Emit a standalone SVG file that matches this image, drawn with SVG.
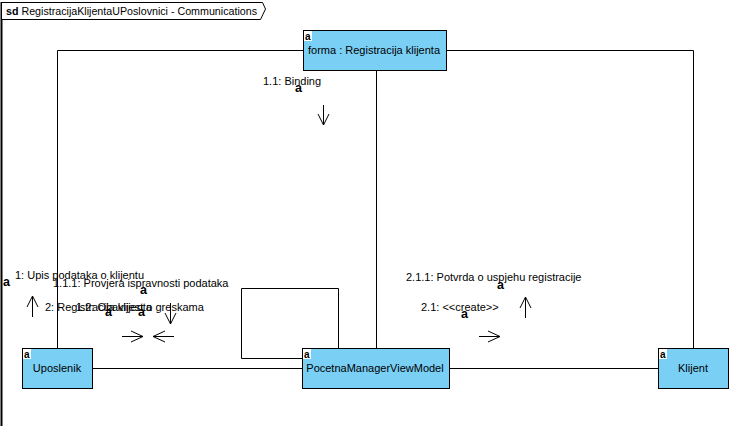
<svg xmlns="http://www.w3.org/2000/svg" width="746" height="426" viewBox="0 0 746 426">
<style>
.node{fill:#7acff5;stroke:#000;stroke-width:1}
.ico{fill:#fff}
.icot{font-family:"Liberation Sans",Arial,sans-serif;font-size:10px;font-weight:bold;fill:#000}
.nt{font-family:"Liberation Sans",Arial,sans-serif;font-size:11px;fill:#000;text-anchor:middle}
.lbl{font-family:"Liberation Sans",Arial,sans-serif;font-size:11px;fill:#000}
.mk{font-family:"Liberation Sans",Arial,sans-serif;font-size:12.5px;font-weight:bold;fill:#000}
.ln{fill:none;stroke:#000;stroke-width:1}
.ar{fill:none;stroke:#000;stroke-width:1}
</style>
<rect width="746" height="426" fill="#fff"/>
<g id="frame">
<line x1="1.5" y1="2" x2="1.5" y2="426" stroke="#000" stroke-width="2"/>
<path d="M2,2.5 H262.5 L265.5,9 L260.5,19.5 H2" fill="#fff" stroke="#000" stroke-width="1"/>
<text x="6" y="15" class="lbl" textLength="251" lengthAdjust="spacingAndGlyphs"><tspan font-weight="bold">sd</tspan> RegistracijaKlijentaUPoslovnici - Communications</text>
</g>
<g id="connectors">
<polyline class="ln" points="303,50.5 57.5,50.5 57.5,348"/>
<polyline class="ln" points="447,50.5 693.5,50.5 693.5,348"/>
<line class="ln" x1="376.5" y1="71" x2="376.5" y2="348"/>
<polyline class="ln" points="338.5,348 338.5,288.5 241.5,288.5 241.5,358.5 302,358.5"/>
<line class="ln" x1="92" y1="368.5" x2="302" y2="368.5"/>
<line class="ln" x1="449" y1="368.5" x2="658" y2="368.5"/>
</g>
<g id="labels">
<text class="lbl" x="263" y="85">1.1: Binding</text>
<text class="mk" x="295" y="92">a</text>
<path class="ar" d="M323.5,105 V125 M318,114 L323.5,125 L329,114"/>
<text class="lbl" x="15" y="279">1: Upis podataka o klijentu</text>
<text class="mk" x="3" y="286">a</text>
<text class="lbl" x="53" y="287">1.1.1: Provjera ispravnosti podataka</text>
<text class="mk" x="140" y="294">a</text>
<path class="ar" d="M32.5,317 V296 M27,307 L32.5,296 L38,307"/>
<text class="lbl" x="45" y="311">2: Registracija klijenta</text>
<text class="lbl" x="76" y="311">1.2: Obavijest o greskama</text>
<text class="mk" x="105" y="316">a</text>
<text class="mk" x="138" y="316">a</text>
<path class="ar" d="M170.5,303 V324 M165,313 L170.5,324 L176,313"/>
<path class="ar" d="M122,336.5 H143 M131,331 L143,336.5 L131,342"/>
<path class="ar" d="M174,336.5 H153 M165,331 L153,336.5 L165,342"/>
<text class="lbl" x="406" y="281">2.1.1: Potvrda o uspjehu registracije</text>
<text class="mk" x="497" y="289">a</text>
<text class="lbl" x="421" y="311">2.1: &lt;&lt;create&gt;&gt;</text>
<text class="mk" x="461" y="318">a</text>
<path class="ar" d="M525.5,318 V297 M520,308 L525.5,297 L531,308"/>
<path class="ar" d="M479,336.5 H500 M488,331 L500,336.5 L488,342"/>
</g>
<g id="node-forma">
<rect class="node" x="303.5" y="30.5" width="143" height="40"/>
<rect class="ico" x="304" y="31" width="8" height="10"/>
<text class="icot" x="305" y="39.5">a</text>
<text class="nt" x="374" y="54">forma : Registracija klijenta</text>
</g>
<g id="node-uposlenik">
<rect class="node" x="22.5" y="348.5" width="70" height="40"/>
<rect class="ico" x="23" y="349" width="8" height="10"/>
<text class="icot" x="24" y="357.5">a</text>
<text class="nt" x="57" y="372">Uposlenik</text>
</g>
<g id="node-pocetna">
<rect class="node" x="302.5" y="348.5" width="147" height="40"/>
<rect class="ico" x="303" y="349" width="8" height="10"/>
<text class="icot" x="304" y="357.5">a</text>
<text class="nt" x="375" y="372">PocetnaManagerViewModel</text>
</g>
<g id="node-klijent">
<rect class="node" x="658.5" y="348.5" width="70" height="40"/>
<rect class="ico" x="659" y="349" width="8" height="10"/>
<text class="icot" x="660" y="357.5">a</text>
<text class="nt" x="693" y="372">Klijent</text>
</g>
</svg>
